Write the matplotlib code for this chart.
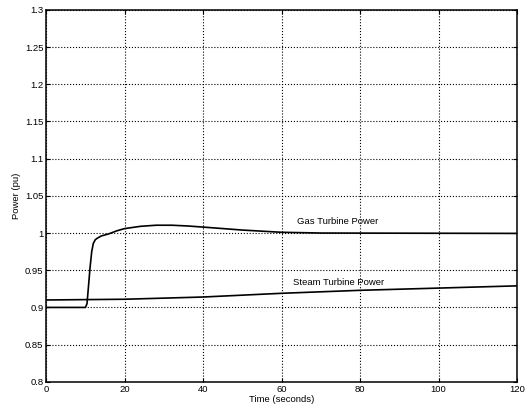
import matplotlib.pyplot as plt

# gas turbine response
gas_t = [0, 10, 10.4, 10.8, 11.2, 11.6, 12.0, 12.5, 13.0, 14, 16, 18, 20, 24, 28,
         32, 36, 40, 50, 60, 70, 120]
gas_p = [0.9, 0.9, 0.905, 0.93, 0.955, 0.975, 0.986, 0.991, 0.993, 0.996, 0.999,
         1.003, 1.006, 1.009, 1.0105, 1.0105, 1.0095, 1.008, 1.004, 1.001, 1.0, 0.9995]

# steam turbine response
steam_t = [0, 20, 40, 60, 80, 100, 120]
steam_p = [0.91, 0.911, 0.914, 0.919, 0.923, 0.926, 0.929]

plt.rcParams['font.family'] = ['Liberation Sans', 'DejaVu Sans']

fig = plt.figure(figsize=(5.25, 4.11), dpi=100)
ax = fig.add_axes([0.088, 0.071, 0.897, 0.905])

ax.plot(gas_t, gas_p, color='black', lw=1.2)
ax.plot(steam_t, steam_p, color='black', lw=1.2)

ax.text(64, 1.0125, 'Gas Turbine Power', fontsize=6.8)
ax.text(63, 0.9305, 'Steam Turbine Power', fontsize=6.8)

ax.set_xlim(0, 120)
ax.set_ylim(0.8, 1.3)
ax.set_xticks([0, 20, 40, 60, 80, 100, 120])
ax.set_yticks([0.8, 0.85, 0.9, 0.95, 1.0, 1.05, 1.1, 1.15, 1.2, 1.25, 1.3])
ax.set_yticklabels(['0.8', '0.85', '0.9', '0.95', '1', '1.05', '1.1', '1.15', '1.2', '1.25', '1.3'])
ax.tick_params(direction='in', labelsize=6.8, length=3, top=True, right=True, pad=2)
ax.grid(True, color='black', linestyle=':', linewidth=0.8)

ax.set_xlabel('Time (seconds)', fontsize=6.8, labelpad=1)
ax.set_ylabel('Power (pu)', fontsize=6.8, labelpad=3)

for s in ax.spines.values():
    s.set_linewidth(1.1)

fig.savefig('out.png', dpi=100)
